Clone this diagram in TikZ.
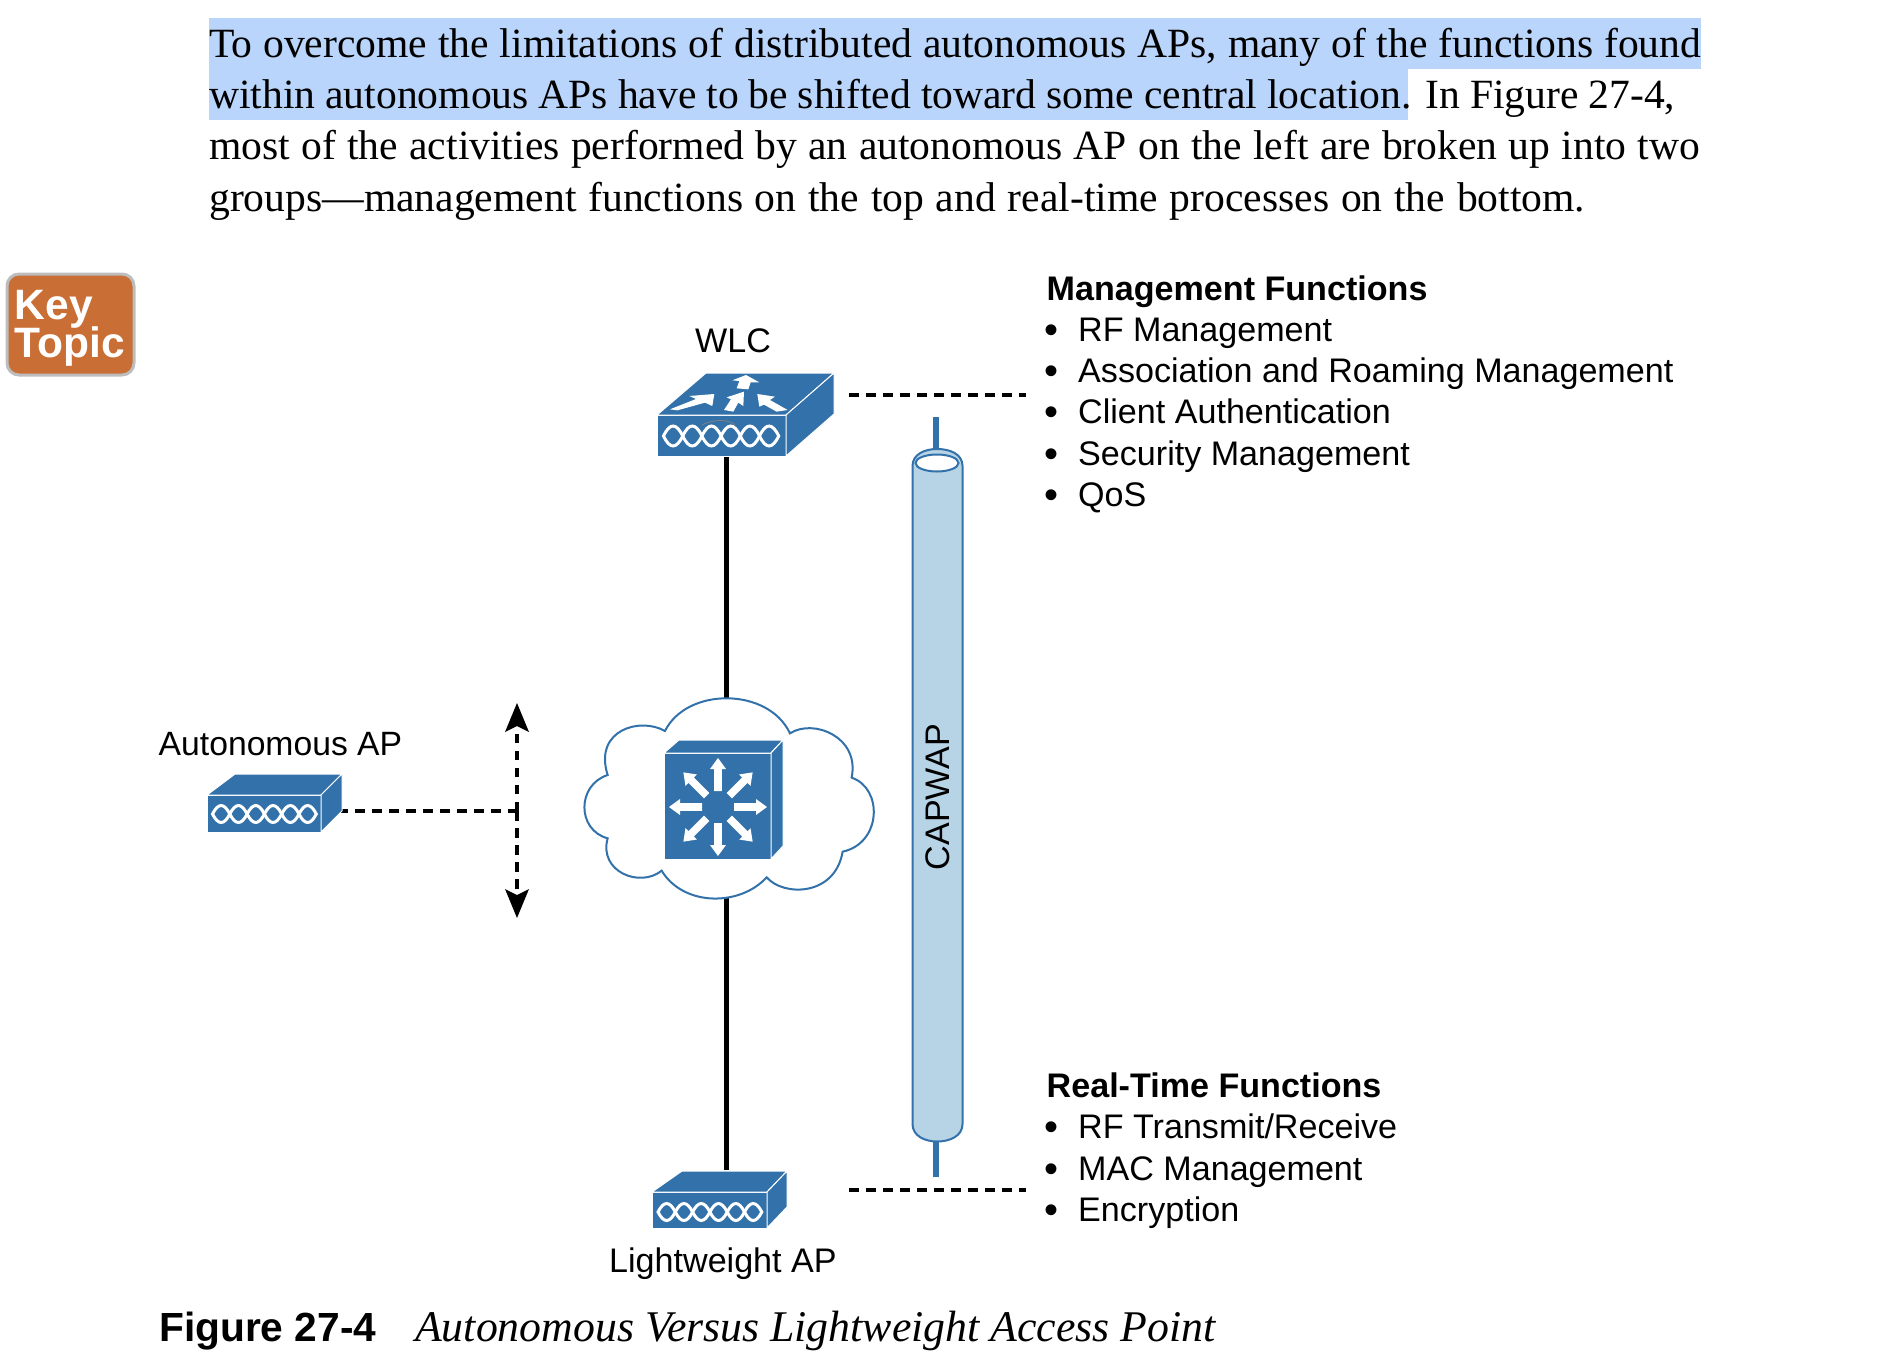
\documentclass[tikz,border=0pt]{standalone}
\usepackage{fontspec}
\setmainfont{Liberation Serif}
\newfontfamily\sansf{Liberation Sans}
\definecolor{ciscoblue}{HTML}{3271AA}
\definecolor{tubefill}{HTML}{B7D3E6}
\definecolor{hilite}{HTML}{B9D5FB}
\definecolor{keyorange}{HTML}{C96E35}
\definecolor{keyedge}{HTML}{BDBDBD}
\newcommand{\wavestrip}[4]{% x0, y, lobe, amp
  \foreach \i in {0,...,5}{
    \draw[wave] ({#1+\i*#3},#2) .. controls ({#1+\i*#3+#3/3},{#2-1.33*#4}) and ({#1+\i*#3+2*#3/3},{#2-1.33*#4}) .. ({#1+\i*#3+#3},#2)
                .. controls ({#1+\i*#3+2*#3/3},{#2+1.33*#4}) and ({#1+\i*#3+#3/3},{#2+1.33*#4}) .. cycle;
  }}
\tikzset{
  face/.style={fill=ciscoblue,draw=white,line width=1pt,line join=round},
  wave/.style={draw=white,line width=3pt},
  link/.style={draw=black,line width=5pt},
  dashlink/.style={draw=black,line width=4pt,dash pattern=on 9.5pt off 7.5pt},
  stem/.style={draw=ciscoblue,line width=6pt},
  tube/.style={draw=ciscoblue,line width=2pt},
  whitearrow/.style={fill=white,draw=none},
  para/.style={anchor=base west,inner sep=0pt,font=\fontsize{41.6}{50}\selectfont},
  lbl/.style={anchor=base west,inner sep=0pt,font=\sansf\fontsize{34.1}{41}\selectfont},
  lblb/.style={anchor=base west,inner sep=0pt,font=\sansf\bfseries\fontsize{34.1}{41}\selectfont},
  dot/.style={anchor=base west,inner sep=0pt,font=\sansf\fontsize{40}{41}\selectfont},
  keytxt/.style={anchor=base west,inner sep=0pt,text=white,font=\sansf\bfseries\fontsize{42.5}{42}\selectfont},
}
\begin{document}
\begin{tikzpicture}[x=1pt,y=-1pt]
\useasboundingbox (0,0) rectangle (1900,1366);
% highlight
\fill[hilite] (209,18) rectangle (1701,68.7);
\fill[hilite] (209,69.3) rectangle (1408,120);
% paragraph
\node[para] (p1) at (209,57.5) {\makebox[1492pt][s]{To overcome the limitations of distributed autonomous APs, many of the functions found}};
\node[para] (p2) at (209,108.5) {\makebox[1466pt][s]{within autonomous APs have to be shifted toward some central location. In Figure 27-4,}};
\node[para] (p3) at (209,159.5) {\makebox[1491pt][s]{most of the activities performed by an autonomous AP on the left are broken up into two}};
\node[para] (p4) at (209,211.5) {\makebox[1376pt][s]{groups—management functions on the top and real-time processes on the bottom.}};
% key topic
\draw[fill=keyorange,draw=keyedge,line width=3pt,rounded corners=12pt] (7,274) rectangle (134,375);
\node[keytxt] (key) at (14.5,319) {Key};
\node[keytxt] (topic) at (14.5,357) {Topic};
% anchor coordinates
\coordinate (wlcBottom) at (726,457);
\coordinate (cloudTop) at (726,702);
\coordinate (cloudBottom) at (726,897);
\coordinate (lapTop) at (726,1170);
\coordinate (apPort) at (338,811);
\coordinate (junction) at (517,811);
\coordinate (upTip) at (517,703);
\coordinate (downTip) at (517,918);
\coordinate (wlcDotA) at (849,395);
\coordinate (wlcDotB) at (1026,395);
\coordinate (lapDotA) at (849,1190);
\coordinate (lapDotB) at (1026,1190);
\coordinate (stemTopA) at (936,417);
\coordinate (stemTopB) at (936,450);
\coordinate (stemBotA) at (936,1140);
\coordinate (stemBotB) at (936,1177);
% black links
\draw[link] (wlcBottom) -- (cloudTop);
\draw[link] (cloudBottom) -- (lapTop);
% dotted
\draw[dashlink] (wlcDotA) -- (wlcDotB);
\draw[dashlink] (lapDotA) -- (lapDotB);
\draw[dashlink] (apPort) -- (junction);
\draw[dashlink] (junction) -- ([yshift=-22pt]upTip);
\draw[dashlink] (junction) -- ([yshift=22pt]downTip);
\fill (upTip) -- ++(12,29) -- ++(-12,-6) -- ++(-12,6) -- cycle;
\fill (downTip) -- ++(12,-29) -- ++(-12,6) -- ++(-12,-6) -- cycle;
% tube
\draw[stem] (stemTopA) -- (stemTopB);
\draw[stem] (stemBotA) -- (stemBotB);
\draw[tube,fill=tubefill] (912.5,466) .. controls (912.5,454) and (925,449) .. (937,449) .. controls (950,449) and (962.5,454) .. (962.5,466) -- (962.5,1124) .. controls (962.5,1136) and (950,1141.5) .. (937,1141.5) .. controls (925,1141.5) and (912.5,1136) .. (912.5,1124) -- cycle;
\draw[tube,fill=white] (937,463) ellipse [x radius=21.5,y radius=8.5];
% WLC box
\draw[face] (657,415) rectangle (786,456);
\draw[face] (657,415) -- (706,373) -- (834,373) -- (786,415) -- cycle;
\draw[face] (786,415) -- (834,373) -- (834,414) -- (786,456) -- cycle;
\wavestrip{663.5}{436}{19.2}{10}
\draw[gray,line width=.8pt] (702,425) .. controls (712,419) and (730,419) .. (735,425);
\begin{scope}[shift={(620,300)},x=0.3333pt,y=-0.3333pt]
\fill[whitearrow] (150,328) -- (228,297) -- (208,288) -- (283,282) -- (277,318) -- (255,308) -- (172,331) -- cycle;
\fill[whitearrow] (312,330) -- (333,298) -- (320,292) -- (372,275) -- (370,318) -- (355,308) -- (340,335) -- cycle;
\fill[whitearrow] (337,241) -- (378,225) -- (418,247) -- (392,247) -- (385,268) -- (350,265) -- (358,243) -- cycle;
\fill[whitearrow] (412,282) -- (465,290) -- (450,300) -- (503,330) -- (470,335) -- (432,314) -- (418,320) -- cycle;
\end{scope}
% Autonomous AP box
\draw[face] (207,795) rectangle (321,832);
\draw[face] (207,795) -- (235,774) -- (342,774) -- (321,795) -- cycle;
\draw[face] (321,795) -- (342,774) -- (342,811) -- (321,832) -- cycle;
\wavestrip{212.5}{814}{17.3}{8.5}
% Lightweight AP box
\draw[face] (652,1192) rectangle (767,1228);
\draw[face] (652,1192) -- (682,1171) -- (787,1171) -- (767,1192) -- cycle;
\draw[face] (767,1192) -- (787,1171) -- (787,1207) -- (767,1228) -- cycle;
\wavestrip{658}{1212}{17.3}{8.5}
% cloud
\begin{scope}[shift={(560,680)},x=0.3333pt,y=-0.3333pt]
\draw[draw=ciscoblue,line width=2pt,fill=white] (315,153)
 .. controls (380,21) and (625,21) .. (690,160)
 .. controls (760,115) and (900,170) .. (875,293)
 .. controls (970,325) and (965,490) .. (848,515)
 .. controls (825,650) and (670,650) .. (620,592)
 .. controls (540,680) and (370,680) .. (305,572)
 .. controls (240,625) and (115,575) .. (143,475)
 .. controls (50,450) and (50,315) .. (143,285)
 .. controls (100,150) and (240,110) .. (315,153) -- cycle;
\end{scope}
% switch
\draw[face] (664,753) rectangle (771,859);
\draw[face] (664,753) -- (679,740) -- (783,740) -- (771,753) -- cycle;
\draw[face] (771,753) -- (783,740) -- (783,846) -- (771,859) -- cycle;
\foreach \a in {0,45,...,315}{
  \fill[whitearrow,shift={(718,807)},rotate=\a] (16,-3.8) -- (38,-3.8) -- (38,-8) -- (49,0) -- (38,8) -- (38,3.8) -- (16,3.8) -- cycle;
}
% labels
\node[lbl] (wlcl) at (695,352) {WLC};
\node[lbl,font=\sansf\fontsize{33.7}{41}\selectfont] (apl) at (158.5,755) {Autonomous AP};
\node[lbl] (lapl) at (609,1272) {Lightweight AP};
\node[lbl,anchor=center,rotate=90] (capwap) at (938,797) {CAPWAP};
\node[lblb] (mgmt) at (1046.5,300.7) {Management Functions};
\foreach \t/\y/\n in {RF Management/341.7/m1,Association and Roaming Management/382.7/m2,Client Authentication/423.9/m3,Security Management/465/m4,QoS/506/m5,RF Transmit\slash Receive/1138.5/r1,MAC Management/1180/r2,Encryption/1221/r3}{
  \node[lbl] (\n) at (1078,\y) {\t};
  \node[dot] (\n b) at (1044.3,\y+2) {•};
}
\node[lblb] (rt) at (1046.5,1097) {Real-Time Functions};
% caption
\node[lblb,font=\sansf\bfseries\fontsize{40.7}{48}\selectfont] (figno) at (159,1341) {Figure 27-4};
\node[para,font=\itshape\fontsize{43.8}{48}\selectfont] (figcap) at (415,1341) {Autonomous Versus Lightweight Access Point};
\end{tikzpicture}
\end{document}
